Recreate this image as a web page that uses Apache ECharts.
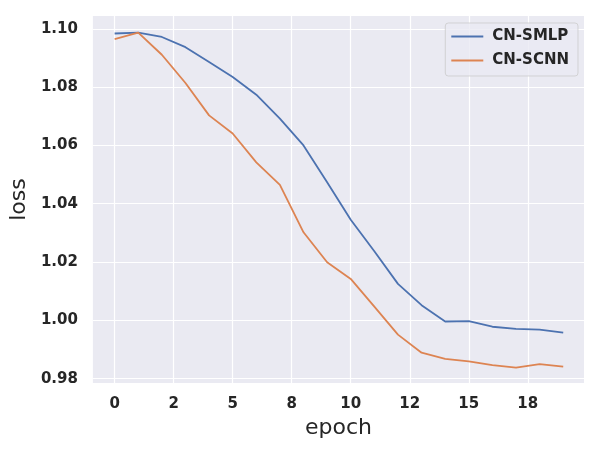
<!DOCTYPE html>
<html>
<head>
<meta charset="utf-8">
<script src="https://cdn.jsdelivr.net/npm/echarts@6/dist/echarts.min.js"></script>
<style>
  html, body { margin: 0; padding: 0; background: #fff; }
  #chart { width: 601px; height: 452px; }
</style>
</head>
<body>
<div id="chart"></div>
<script>
var epochs = [0, 1, 2, 3, 4, 5, 6, 7, 8, 9, 10, 11, 12, 13, 14, 15, 16, 17, 18, 19];
var smlp = [1.0984, 1.0987, 1.0972, 1.0937, 1.0886, 1.0835, 1.0774, 1.0692, 1.0600, 1.0474,
            1.0345, 1.0237, 1.0125, 1.0052, 0.9996, 0.9997, 0.9978, 0.9971, 0.9968, 0.9958];
var scnn = [1.0965, 1.0987, 1.0911, 1.0814, 1.0703, 1.0641, 1.0542, 1.0465, 1.0302, 1.0199,
            1.0142, 1.0047, 0.9951, 0.9889, 0.9868, 0.9859, 0.9846, 0.9838, 0.9850, 0.9841];
var xTicks = [0, 2.5, 5, 7.5, 10, 12.5, 15, 17.5];
var xTickLabels = ['0', '2', '5', '8', '10', '12', '15', '18'];
var yTicks = [0.98, 1.00, 1.02, 1.04, 1.06, 1.08, 1.10];

(function(){
  var myChart = echarts.init(document.getElementById('chart'));
  var font = 'DejaVu Sans';
  function pairs(ys) {
    return epochs.map(function (x, i) { return [x, ys[i]]; });
  }
  var option = {
    animation: false,
    backgroundColor: '#ffffff',
    grid: {
      left: 90, right: 17, top: 16, bottom: 69,
      show: true,
      backgroundColor: '#EAEAF2',
      borderWidth: 0
    },
    legend: {
      orient: 'vertical',
      right: 23,
      top: 23,
      padding: [6, 9, 8, 6],
      icon: 'rect',
      itemWidth: 32,
      itemHeight: 2,
      itemGap: 9,
      backgroundColor: 'rgba(234,234,242,0.8)',
      borderColor: 'rgba(204,204,204,0.8)',
      borderWidth: 1,
      borderRadius: 3,
      textStyle: { fontFamily: font, fontWeight: 'bold', fontSize: 15, color: '#262626', padding: [0, 0, 0, 4] },
      data: ['CN-SMLP', 'CN-SCNN']
    },
    xAxis: {
      type: 'value',
      min: -0.92,
      max: 19.88,
      name: 'epoch',
      nameLocation: 'middle',
      nameGap: 33,
      nameTextStyle: { fontFamily: font, fontSize: 22, color: '#262626' },
      axisLine: { show: false },
      axisTick: { show: false, customValues: xTicks },
      axisLabel: {
        customValues: xTicks,
        margin: 14,
        fontFamily: font, fontWeight: 'bold', fontSize: 15, color: '#262626',
        formatter: function (v) {
          var i = xTicks.indexOf(v);
          return i >= 0 ? xTickLabels[i] : '';
        }
      },
      splitLine: { show: true, lineStyle: { color: '#ffffff', width: 1.2 } }
    },
    yAxis: {
      type: 'value',
      min: 0.9785,
      max: 1.1044,
      name: 'loss',
      nameLocation: 'middle',
      nameGap: 57,
      nameTextStyle: { fontFamily: font, fontSize: 22, color: '#262626' },
      axisLine: { show: false },
      axisTick: { show: false, customValues: yTicks },
      axisLabel: {
        customValues: yTicks,
        margin: 15,
        fontFamily: font, fontWeight: 'bold', fontSize: 15, color: '#262626',
        formatter: function (v) { return v.toFixed(2); }
      },
      splitLine: { show: true, lineStyle: { color: '#ffffff', width: 1.2 } }
    },
    series: [
      {
        name: 'CN-SMLP',
        type: 'line',
        data: pairs(smlp),
        symbol: 'none',
        color: '#4C72B0',
        lineStyle: { width: 1.8, color: '#4C72B0' }
      },
      {
        name: 'CN-SCNN',
        type: 'line',
        data: pairs(scnn),
        symbol: 'none',
        color: '#DD8452',
        lineStyle: { width: 1.8, color: '#DD8452' }
      }
    ]
  };
  myChart.setOption(option);
  window.addEventListener("resize", function() {
    myChart.resize();
  });
})();
</script>
</body>
</html>
